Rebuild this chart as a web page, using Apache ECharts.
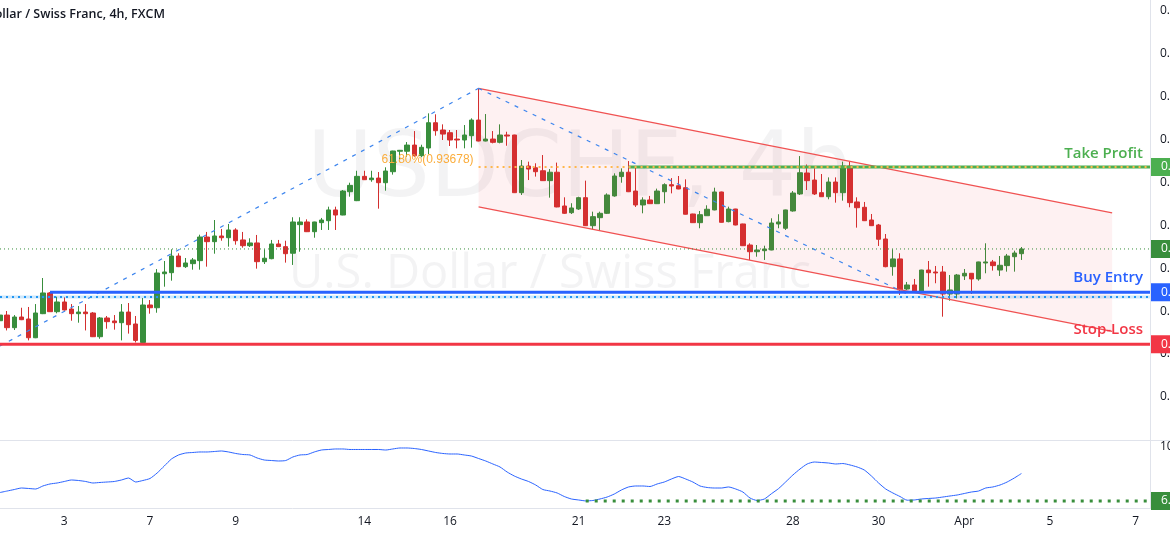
<!DOCTYPE html>
<html><head><meta charset="utf-8">
<script src="https://cdn.jsdelivr.net/npm/echarts@6/dist/echarts.min.js"></script>
<style>html,body{margin:0;padding:0;background:#fff}#c{width:1170px;height:536px}</style>
</head><body><div id="c"></div>
<script>
// ---------- data ----------
const tradingDays = ['Mar 1','Mar 2','Mar 3','Mar 4','Mar 7','Mar 8','Mar 9','Mar 10','Mar 11','Mar 14','Mar 15','Mar 16','Mar 17','Mar 18','Mar 21','Mar 22','Mar 23','Mar 24','Mar 25','Mar 28','Mar 29','Mar 30','Mar 31','Apr 1','Apr 4','Apr 5','Apr 6','Apr 7'];
const barHours = ['00:00','04:00','08:00','12:00','16:00','20:00'];
const firstBarOffset = 3;
const slotCount = 162;
const xTickDays = ['Mar 3','Mar 7','Mar 9','Mar 14','Mar 16','Mar 21','Mar 23','Mar 28','Mar 30','Apr 1','Apr 5','Apr 7'];
const xTickText = ['3','7','9','14','16','21','23','28','30','Apr','5','7'];

// [open, close, low, high]
const ohlc = [
[0.91888,0.91954,0.91800,0.92024],[0.91954,0.91807,0.91775,0.92001],[0.91807,0.91931,0.91780,0.91954],[0.91931,0.91900,0.91895,0.92039],
[0.91908,0.91690,0.91659,0.92048],[0.91690,0.91978,0.91685,0.92082],[0.91970,0.92211,0.91965,0.92385],[0.92211,0.91993,0.91990,0.92222],
[0.91993,0.92106,0.91974,0.92167],[0.92106,0.92013,0.92005,0.92160],[0.92024,0.91970,0.91888,0.92082],[0.91970,0.91989,0.91865,0.92059],
[0.91989,0.91970,0.91775,0.92082],[0.91978,0.91702,0.91698,0.91989],[0.91702,0.91920,0.91678,0.91931],[0.91920,0.91877,0.91795,0.91943],
[0.91885,0.91865,0.91784,0.91954],[0.91865,0.91989,0.91659,0.92082],[0.91989,0.91842,0.91738,0.92094],[0.91850,0.91659,0.91635,0.91943],
[0.91635,0.92071,0.91612,0.92152],[0.92071,0.92039,0.91970,0.92129],[0.92039,0.92443,0.91981,0.92489],[0.92435,0.92455,0.92284,0.92583],
[0.92447,0.92641,0.92354,0.92719],[0.92641,0.92517,0.92512,0.92673],[0.92517,0.92560,0.92502,0.92618],[0.92552,0.92595,0.92482,0.92618],
[0.92587,0.92862,0.92482,0.92889],[0.92862,0.92808,0.92517,0.92921],[0.92808,0.92874,0.92668,0.93060],[0.92874,0.92854,0.92819,0.92956],
[0.92854,0.92944,0.92750,0.93014],[0.92944,0.92819,0.92773,0.92964],[0.92828,0.92761,0.92738,0.92921],[0.92761,0.92793,0.92746,0.92847],
[0.92793,0.92575,0.92494,0.92886],[0.92575,0.92615,0.92548,0.92719],[0.92610,0.92781,0.92603,0.92828],[0.92781,0.92750,0.92746,0.92828],
[0.92750,0.92668,0.92564,0.92819],[0.92673,0.93037,0.92537,0.93092],[0.93006,0.93037,0.92691,0.93092],[0.93037,0.92924,0.92920,0.93068],
[0.92924,0.93037,0.92854,0.93040],[0.93029,0.93060,0.92944,0.93084],[0.93052,0.93177,0.92944,0.93215],[0.93177,0.93118,0.92944,0.93215],
[0.93118,0.93397,0.93115,0.93409],[0.93389,0.93463,0.93331,0.93494],[0.93285,0.93568,0.93280,0.93633],[0.93568,0.93529,0.93525,0.93633],
[0.93529,0.93548,0.93505,0.93633],[0.93548,0.93494,0.93192,0.93618],[0.93494,0.93630,0.93401,0.93673],[0.93622,0.93863,0.93588,0.93866],
[0.93860,0.93871,0.93760,0.93875],[0.93860,0.93932,0.93796,0.93967],[0.93932,0.93808,0.93796,0.94095],[0.93808,0.93906,0.93790,0.93936],
[0.93898,0.94192,0.93828,0.94301],[0.94192,0.94099,0.94041,0.94290],[0.94107,0.94060,0.93991,0.94173],[0.94076,0.93991,0.93921,0.94107],
[0.94002,0.93991,0.93894,0.94107],[0.93991,0.94049,0.93894,0.94165],[0.94041,0.94223,0.93902,0.94243],[0.94223,0.93979,0.93975,0.94592],
[0.93979,0.94002,0.93975,0.94293],[0.94002,0.93964,0.93952,0.94095],[0.93964,0.94049,0.93952,0.94173],[0.94049,0.94037,0.93924,0.94087],
[0.94049,0.93378,0.93374,0.94052],[0.93378,0.93688,0.93351,0.93758],[0.93688,0.93653,0.93525,0.93739],[0.93668,0.93622,0.93565,0.93720],
[0.93633,0.93518,0.93514,0.93816],[0.93518,0.93616,0.93320,0.93653],[0.93616,0.93212,0.93208,0.93728],[0.93223,0.93138,0.93130,0.93324],
[0.93145,0.93200,0.93130,0.93255],[0.93188,0.93320,0.93177,0.93331],[0.93320,0.92994,0.92990,0.93518],[0.92994,0.93099,0.92952,0.93157],
[0.93087,0.93138,0.92936,0.93157],[0.93138,0.93351,0.93130,0.93370],[0.93340,0.93572,0.93331,0.93603],[0.93565,0.93616,0.93494,0.93661],
[0.93616,0.93389,0.93385,0.93746],[0.93397,0.93235,0.93212,0.93665],[0.93235,0.93293,0.93138,0.93324],[0.93293,0.93250,0.93246,0.93340],
[0.93250,0.93397,0.93246,0.93425],[0.93389,0.93471,0.93255,0.93487],[0.93471,0.93456,0.93370,0.93548],[0.93459,0.93421,0.93418,0.93572],
[0.93436,0.93127,0.93124,0.93533],[0.93130,0.93029,0.93025,0.93133],[0.93029,0.93122,0.92964,0.93165],[0.93110,0.93185,0.93107,0.93231],
[0.93177,0.93386,0.93173,0.93436],[0.93386,0.93033,0.93030,0.93390],[0.93041,0.93188,0.93033,0.93215],[0.93188,0.93002,0.92998,0.93190],
[0.93014,0.92761,0.92757,0.93017],[0.92769,0.92691,0.92595,0.92789],[0.92691,0.92711,0.92633,0.92769],[0.92703,0.92723,0.92595,0.92761],
[0.92711,0.93025,0.92708,0.93080],[0.93014,0.93037,0.92964,0.93127],[0.92964,0.93177,0.92944,0.93180],[0.93165,0.93374,0.93157,0.93397],
[0.93363,0.93610,0.93351,0.93804],[0.93607,0.93518,0.93409,0.93706],[0.93525,0.93363,0.93351,0.93661],[0.93378,0.93331,0.93328,0.93595],
[0.93331,0.93502,0.93301,0.93556],[0.93502,0.93378,0.93262,0.93556],[0.93378,0.93688,0.93285,0.93739],[0.93688,0.93262,0.93208,0.93739],
[0.93270,0.93203,0.92971,0.93324],[0.93208,0.93052,0.93048,0.93270],[0.93060,0.92994,0.92990,0.93130],[0.93002,0.92836,0.92758,0.93014],
[0.92839,0.92517,0.92510,0.92897],[0.92517,0.92607,0.92412,0.92719],[0.92607,0.92246,0.92188,0.92673],[0.92257,0.92304,0.92246,0.92339],
[0.92304,0.92226,0.92215,0.92374],[0.92226,0.92478,0.92222,0.92481],[0.92478,0.92447,0.92284,0.92583],[0.92455,0.92444,0.92324,0.92525],
[0.92455,0.92199,0.91935,0.92525],[0.92199,0.92246,0.92121,0.92420],[0.92199,0.92420,0.92148,0.92432],[0.92409,0.92440,0.92362,0.92490],
[0.92440,0.92374,0.92199,0.92443],[0.92374,0.92572,0.92354,0.92575],[0.92560,0.92572,0.92440,0.92789],[0.92572,0.92529,0.92471,0.92595],
[0.92478,0.92533,0.92409,0.92641],[0.92529,0.92641,0.92459,0.92665],[0.92633,0.92676,0.92459,0.92703],[0.92668,0.92723,0.92595,0.92746]
];

const oscillator = [
20.8,23.4,26.0,28.6,27.8,26.9,32.1,35.6,37.3,39.9,
42.5,41.6,39.9,37.3,38.2,39.0,39.9,42.5,45.9,39.0,
41.6,45.1,54.6,66.7,78.8,85.8,89.2,90.1,91.0,91.0,
91.8,92.7,91.0,88.4,86.6,85.8,80.6,77.1,76.2,75.4,
76.2,82.3,85.8,86.6,91.0,94.4,95.3,96.2,96.2,95.3,
95.3,95.3,95.3,95.3,94.4,96.2,97.9,97.9,97.0,95.3,
92.7,90.1,88.4,87.5,87.5,85.8,84.0,79.7,75.4,70.2,
65.0,56.3,49.4,44.2,39.9,33.8,26.0,23.4,20.0,13.9,
9.6,7.9,6.3,7.0,9.6,13.0,18.2,25.2,30.4,32.1,
32.1,31.2,35.6,39.0,44.2,48.5,44.2,39.0,32.1,29.5,
28.6,28.6,30.4,26.9,21.7,11.3,7.0,9.5,18.7,27.6,
39.2,51.1,61.5,70.2,73.6,72.8,71.9,70.2,71.0,68.5,
65.0,59.8,49.4,37.3,26.9,20.0,13.9,7.5,7.9,9.6,
10.5,11.3,13.0,14.8,16.5,19.1,21.7,23.4,28.6,30.4,
33.8,39.0,45.9,53.7
];

// drawings (slot index, price)
const channelSlots = [67, 155.7];
const channelUpper = [0.94592, 0.93142];
const channelLower = [0.93212, 0.91763];
const swingSlots = [0, 67, 127];
const swingPrices = [0.91594, 0.94592, 0.92200];
const fibLevel = 0.93678;
const fibStartSlot = 67;
const fibText = '61.80%(0.93678)';
const takeProfit = 0.93678, takeProfitStart = 88;
const buyEntry = 0.92220, buyEntryStart = 7;
const entryMarker = 0.92164;
const stopLoss = 0.91615;
const oscSupport = 6.3, oscSupportStart = 82;
const lastPrice = ohlc[ohlc.length - 1][1];

// ---------- build ----------
const categories = [];
tradingDays.forEach((d, i) => barHours.forEach((h, j) => {
  if (i === 0 && j < firstBarOffset) return;
  categories.push(d + ' ' + h);
}));
categories.length = slotCount;
const tickMap = {};
xTickDays.forEach((d, i) => { tickMap[categories.indexOf(d + ' ' + barHours[0])] = xTickText[i]; });
const lastSlot = slotCount - 1;

const UP = '#388e3c', DOWN = '#d32f2f';
const FONT = '"Open Sans", "Liberation Sans", sans-serif';

function lineEl(a, b, style) {
  return { type: 'line', shape: { x1: a[0], y1: a[1], x2: b[0], y2: b[1] }, style: style };
}
function boxEl(xr, y, color, text) {
  return [
    { type: 'rect', shape: { x: xr + 1, y: y - 9, width: 40, height: 18 }, style: { fill: color } },
    { type: 'text', x: xr + 11, y: y, style: { text: text, fill: '#fff', font: '12px ' + FONT, align: 'left', verticalAlign: 'middle' } }
  ];
}

function mainOverlay(params, api) {
  const P = (k, v) => api.coord([k, v]);
  const kids = [];
  const u1 = P(channelSlots[0], channelUpper[0]), u2 = P(channelSlots[1], channelUpper[1]);
  const l1 = P(channelSlots[0], channelLower[0]), l2 = P(channelSlots[1], channelLower[1]);
  kids.push({ type: 'polygon', shape: { points: [u1, u2, l2, l1] }, style: { fill: 'rgba(242,54,69,0.07)' } });
  kids.push(lineEl(u1, u2, { stroke: '#f05252', lineWidth: 1.2 }));
  kids.push(lineEl(l1, l2, { stroke: '#f05252', lineWidth: 1.2 }));
  const dash = { stroke: '#3d85ee', lineWidth: 1.2, lineDash: [4, 6] };
  kids.push(lineEl(P(swingSlots[0], swingPrices[0]), P(swingSlots[1], swingPrices[1]), dash));
  kids.push(lineEl(P(swingSlots[1], swingPrices[1]), P(swingSlots[2], swingPrices[2]), dash));
  const xr = P(lastSlot, lastPrice)[0];
  kids.push(lineEl(P(0, lastPrice), P(lastSlot, lastPrice), { stroke: UP, lineWidth: 1, lineDash: [1, 3] }));
  kids.push(lineEl(P(0, entryMarker), P(lastSlot, entryMarker), { stroke: 'rgba(33,150,243,0.22)', lineWidth: 3 }));
  kids.push(lineEl(P(0, entryMarker), P(lastSlot, entryMarker), { stroke: '#2196f3', lineWidth: 2, lineDash: [2, 4] }));
  kids.push(lineEl(P(0, stopLoss), P(lastSlot, stopLoss), { stroke: '#f23645', lineWidth: 3 }));
  kids.push(lineEl(P(buyEntryStart, buyEntry), P(lastSlot, buyEntry), { stroke: '#2962ff', lineWidth: 3 }));
  kids.push(lineEl(P(takeProfitStart, takeProfit), P(lastSlot, takeProfit), { stroke: '#4caf50', lineWidth: 3 }));
  kids.push(lineEl(P(fibStartSlot, fibLevel), P(lastSlot, fibLevel), { stroke: '#ffb74d', lineWidth: 2, lineDash: [2, 4] }));
  const f = P(fibStartSlot, fibLevel);
  kids.push({ type: 'text', x: f[0] - 5, y: f[1] - 7, style: { text: fibText, fill: '#fbad3c', font: '12px "Liberation Sans", Arial, sans-serif', align: 'right', verticalAlign: 'middle' } });
  const tp = P(lastSlot, takeProfit), be = P(lastSlot, buyEntry), sl = P(lastSlot, stopLoss);
  const lf = '600 15px ' + FONT;
  kids.push({ type: 'text', x: tp[0] - 7, y: tp[1] - 13, style: { text: 'Take Profit', fill: '#4caf50', font: lf, align: 'right', verticalAlign: 'middle' } });
  kids.push({ type: 'text', x: be[0] - 7, y: be[1] - 14, style: { text: 'Buy Entry', fill: '#2962ff', font: lf, align: 'right', verticalAlign: 'middle' } });
  kids.push({ type: 'text', x: sl[0] - 7, y: sl[1] - 14, style: { text: 'Stop-Loss', fill: '#f23645', font: lf, align: 'right', verticalAlign: 'middle' } });
  kids.push(...boxEl(xr, tp[1], '#4caf50', takeProfit.toFixed(5)));
  kids.push(...boxEl(xr, P(lastSlot, lastPrice)[1], UP, lastPrice.toFixed(5)));
  kids.push(...boxEl(xr, be[1], '#2962ff', buyEntry.toFixed(5)));
  kids.push(...boxEl(xr, sl[1], '#f23645', stopLoss.toFixed(5)));
  return { type: 'group', children: kids };
}

function oscOverlay(params, api) {
  const a = api.coord([oscSupportStart, oscSupport]);
  const b = api.coord([lastSlot, oscSupport]);
  return { type: 'group', children: [
    lineEl(a, b, { stroke: UP, lineWidth: 3, lineDash: [3, 6] }),
    ...boxEl(b[0], b[1], UP, oscSupport.toFixed(2))
  ] };
}

const chart = echarts.init(document.getElementById('c'), null, { renderer: 'canvas' });
chart.setOption({
  animation: false,
  backgroundColor: '#ffffff',
  textStyle: { fontFamily: FONT },
  grid: [
    { left: 0, right: 20, top: 0, height: 440, containLabel: false, outerBoundsMode: 'none' },
    { left: 0, right: 20, top: 441, height: 67, containLabel: false, outerBoundsMode: 'none' }
  ],
  xAxis: [
    { type: 'category', gridIndex: 0, data: categories, boundaryGap: false, axisLine: { show: false }, axisTick: { show: false }, axisLabel: { show: false }, splitLine: { show: false } },
    { type: 'category', gridIndex: 1, data: categories, boundaryGap: false, axisLine: { show: false }, axisTick: { show: false }, splitLine: { show: false },
      axisLabel: { interval: (i) => tickMap[i] !== undefined, formatter: (v, i) => tickMap[i] || '', color: '#131722', fontSize: 12, margin: 8, fontFamily: FONT } },
    { type: 'value', gridIndex: 0, min: 0, max: lastSlot, show: false, axisLine: { onZero: false } }
  ],
  yAxis: [
    { type: 'value', gridIndex: 0, position: 'right', min: 0.905, max: 0.9562, interval: 0.005,
      axisLine: { show: true, onZero: false, lineStyle: { color: '#e0e3eb' } }, axisTick: { show: false }, splitLine: { show: false },
      axisLabel: { showMinLabel: false, showMaxLabel: false, margin: 10, color: '#131722', fontSize: 12, formatter: (v) => v.toFixed(5) } },
    { type: 'value', gridIndex: 1, position: 'right', min: -6, max: 110, interval: 106,
      axisLine: { show: true, onZero: false, lineStyle: { color: '#e0e3eb' } }, axisTick: { show: false }, splitLine: { show: false },
      axisLabel: { showMinLabel: false, showMaxLabel: false, margin: 10, color: '#131722', fontSize: 12, formatter: (v) => v.toFixed(2) } }
  ],
  graphic: [
    { type: 'text', x: 580, y: 173, z: -10, silent: true, style: { text: 'USDCHF, 4h', fill: 'rgba(120,123,134,0.09)', font: '90px "DejaVu Sans", sans-serif', align: 'center', verticalAlign: 'middle' } },
    { type: 'text', x: 550, y: 275, z: -10, silent: true, style: { text: 'U.S. Dollar / Swiss Franc', fill: 'rgba(120,123,134,0.09)', font: '47px ' + FONT, align: 'center', verticalAlign: 'middle' } },
    { type: 'text', x: 165, y: 14, style: { text: 'U.S. Dollar / Swiss Franc, 4h, FXCM', fill: '#131722', font: '600 12.5px ' + FONT, align: 'right', verticalAlign: 'middle' } },
    { type: 'line', shape: { x1: 0, y1: 440.5, x2: 1170, y2: 440.5 }, style: { stroke: '#e0e3eb', lineWidth: 1 } },
    { type: 'line', shape: { x1: 0, y1: 508.5, x2: 1170, y2: 508.5 }, style: { stroke: '#e0e3eb', lineWidth: 1 } }
  ],
  series: [
    { type: 'candlestick', xAxisIndex: 0, yAxisIndex: 0, data: ohlc, barWidth: 5, z: 2,
      itemStyle: { color: UP, color0: DOWN, borderColor: UP, borderColor0: DOWN, borderWidth: 1 } },
    { type: 'custom', xAxisIndex: 2, yAxisIndex: 0, data: [[0, 0.93]], renderItem: mainOverlay, z: 5, silent: true },
    { type: 'line', xAxisIndex: 1, yAxisIndex: 1, data: oscillator, showSymbol: false, smooth: 0.2,
      lineStyle: { color: '#2962ff', width: 1 }, z: 3 },
    { type: 'custom', xAxisIndex: 1, yAxisIndex: 1, data: [[0, 50]], renderItem: oscOverlay, z: 4, silent: true }
  ]
});
</script></body></html>
